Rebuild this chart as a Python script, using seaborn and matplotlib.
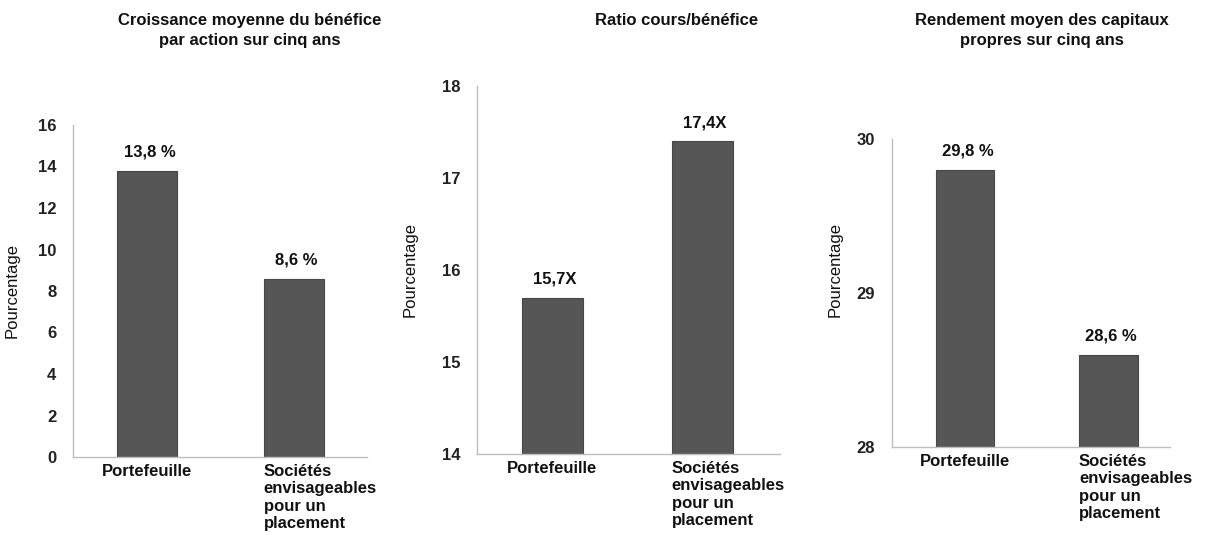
import matplotlib
matplotlib.use("Agg")
import matplotlib.pyplot as plt
import seaborn as sns

# ---------------------------------------------
# DATA
# ---------------------------------------------
categories = ["Portefeuille", "Sociétés\nenvisageables\npour un\nplacement"]

eps_growth = [13.8, 8.6]
eps_labels = ["13,8 %", "8,6 %"]

pe_ratio = [15.7, 17.4]
pe_labels = ["15,7X", "17,4X"]

roe = [29.8, 28.6]
roe_labels = ["29,8 %", "28,6 %"]

titles = [
    "Croissance moyenne du bénéfice\npar action sur cinq ans",
    "Ratio cours/bénéfice",
    "Rendement moyen des capitaux\npropres sur cinq ans",
]
y_label = "Pourcentage"

# ---------------------------------------------
# STYLE
# ---------------------------------------------
sns.set_theme(style="white")
plt.rcParams["font.family"] = ["Liberation Sans", "DejaVu Sans"]

BAR_COLOR = "#565656"
EDGE_COLOR = "#474747"
SPINE_COLOR = "#bdbdbd"
TEXT_COLOR = "#111111"
BAR_W = 0.41

W, H = 1206, 535
fig = plt.figure(figsize=(W / 100, H / 100), dpi=100)
fig.patch.set_facecolor("white")


def px_axes(left, right, bottom, top):
    """axes rect from pixel edges"""
    return [left / W, 1 - bottom / H, (right - left) / W, (bottom - top) / H]


panels = [
    dict(rect=px_axes(73, 367, 457, 125), vals=eps_growth, labels=eps_labels,
         ylim=(0, 16), yticks=range(0, 17, 2), xlim=(-0.503, 1.497),
         title_xy=(250, 13), ylab_xy=(-0.18, 0.50)),
    dict(rect=px_axes(477, 780, 454, 86), vals=pe_ratio, labels=pe_labels,
         ylim=(14, 18), yticks=range(14, 19), xlim=(-0.503, 1.517),
         title_xy=(677, 13), ylab_xy=(-0.195, 0.50)),
    dict(rect=px_axes(892, 1170, 447, 139), vals=roe, labels=roe_labels,
         ylim=(28, 30), yticks=range(28, 31), xlim=(-0.509, 1.43),
         title_xy=(1042, 13), ylab_xy=(-0.176, 0.575)),
]

for p, title in zip(panels, titles):
    ax = fig.add_axes(p["rect"])
    sns.barplot(x=categories, y=p["vals"], ax=ax, color=BAR_COLOR,
                width=BAR_W, edgecolor=EDGE_COLOR, linewidth=0.8,
                saturation=1)
    ax.set_ylim(*p["ylim"])
    ax.set_xlim(*p["xlim"])
    ax.set_yticks(list(p["yticks"]))
    ax.tick_params(axis="y", length=3, width=0.8, color=SPINE_COLOR,
                   pad=9, labelsize=12, labelcolor="#222222")
    for lab in ax.get_yticklabels():
        lab.set_fontweight("bold")

    # x labels: first centred on its bar, second starts at bar's left edge
    ax.set_xticks([0, 1 - BAR_W / 2])
    ax.set_xticklabels(categories, fontsize=12, fontweight="bold",
                       color=TEXT_COLOR, linespacing=1.2)
    ax.get_xticklabels()[1].set_horizontalalignment("left")
    ax.tick_params(axis="x", length=0, pad=5)

    for s in ["top", "right"]:
        ax.spines[s].set_visible(False)
    for s in ["left", "bottom"]:
        ax.spines[s].set_color(SPINE_COLOR)
        ax.spines[s].set_linewidth(1.0)

    ax.set_ylabel(y_label, fontsize=12, color=TEXT_COLOR)
    ax.yaxis.set_label_coords(*p["ylab_xy"])
    ax.set_xlabel("")

    # value labels above bars
    for bar, txt in zip(ax.patches, p["labels"]):
        ax.annotate(txt, (bar.get_x() + bar.get_width() / 2, bar.get_height()),
                    xytext=(2, 8), textcoords="offset points",
                    ha="center", va="bottom", fontsize=12,
                    fontweight="bold", color=TEXT_COLOR)

    tx, ty = p["title_xy"]
    fig.text(tx / W, 1 - ty / H, title, ha="center", va="top",
             fontsize=12, fontweight="bold", color=TEXT_COLOR,
             linespacing=1.4)

plt.savefig("out.png", dpi=100, facecolor=fig.get_facecolor())
